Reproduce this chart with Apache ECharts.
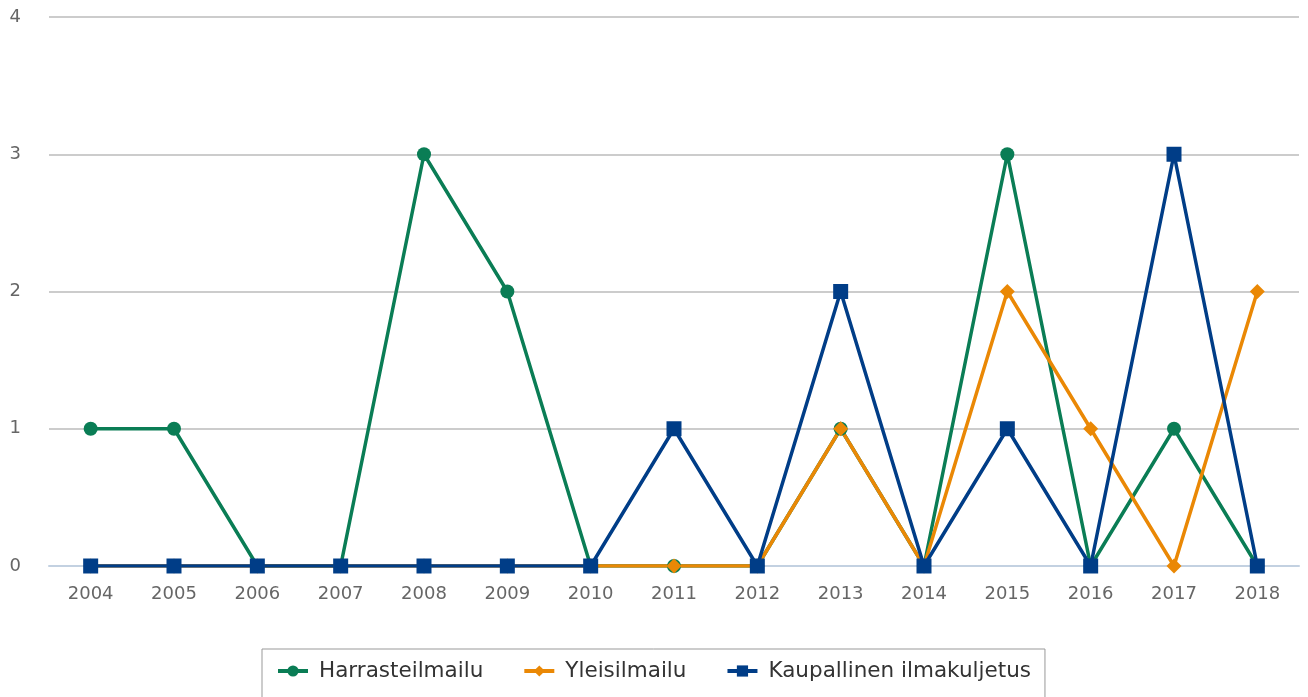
<!DOCTYPE html>
<html>
<head>
<meta charset="utf-8">
<script src="https://cdn.jsdelivr.net/npm/echarts@6/dist/echarts.min.js"></script>
<style>
  html, body { margin: 0; padding: 0; background: #fff; }
  #main { width: 1308px; height: 697px; }
</style>
</head>
<body>
<div id="main"></div>
<script>
// 数据
const years = ['2004', '2005', '2006', '2007', '2008', '2009', '2010', '2011', '2012', '2013', '2014', '2015', '2016', '2017', '2018'];
const harrasteilmailu = [1, 1, 0, 0, 3, 2, 0, 0, 0, 1, 0, 3, 0, 1, 0];
const yleisilmailu = [0, 0, 0, 0, 0, 0, 0, 0, 0, 1, 0, 2, 1, 0, 2];
const kaupallinen = [0, 0, 0, 0, 0, 0, 0, 1, 0, 2, 0, 1, 0, 3, 0];

const font = 'DejaVu Sans';

function line(name, data, color, symbol, size) {
  return {
    name: name,
    type: 'line',
    data: data,
    symbol: symbol,
    symbolSize: size,
    lineStyle: { color: color, width: 3.5 },
    itemStyle: { color: color },
    emphasis: { disabled: true },
  };
}

const option = {
  animation: false,
  textStyle: { fontFamily: font },
  grid: { top: 17, bottom: 131, left: 49, right: 9 },
  legend: {
    left: 262,
    top: 649,
    padding: [11, 14, 30, 14],
    borderColor: '#999',
    borderWidth: 1,
    itemWidth: 30,
    itemHeight: 14,
    itemGap: 39,
    lineStyle: { width: 4 },
    textStyle: { fontSize: 21.5, color: '#333', fontFamily: font, padding: [0, 0, 0, 6] },
    data: ['Harrasteilmailu', 'Yleisilmailu', 'Kaupallinen ilmakuljetus'],
  },
  xAxis: {
    type: 'category',
    data: years,
    axisLine: { lineStyle: { color: '#c3d1e1', width: 2 } },
    axisTick: { length: 10, lineStyle: { color: '#c3d1e1', width: 2 } },
    axisLabel: { color: '#666', fontSize: 18, margin: 19 },
  },
  yAxis: {
    type: 'value',
    min: 0,
    max: 4,
    interval: 1,
    axisLine: { show: false },
    axisTick: { show: false },
    axisLabel: { color: '#666', fontSize: 18, margin: 28 },
    splitLine: { lineStyle: { color: '#ccc', width: 2 } },
  },
  series: [
    line('Harrasteilmailu', harrasteilmailu, '#0a7d55', 'circle', 14),
    line('Yleisilmailu', yleisilmailu, '#ea8805', 'diamond', 15),
    line('Kaupallinen ilmakuljetus', kaupallinen, '#003d87', 'rect', 15),
  ],
};

const myChart = echarts.init(document.getElementById('main'));
myChart.setOption(option);
</script>
</body>
</html>
